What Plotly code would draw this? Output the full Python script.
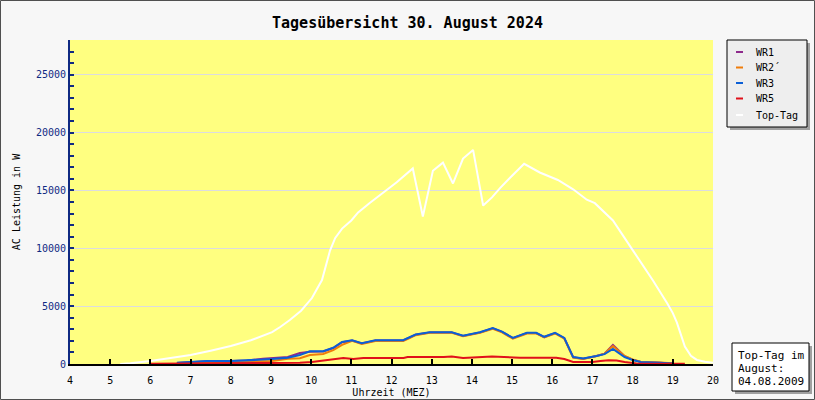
import plotly.graph_objects as go

# ---------------- data (hours, watts) ----------------
top_h = [5.25, 5.5, 6.0, 6.5, 7.0, 7.5, 8.0, 8.5, 9.03, 9.23, 9.47, 9.75, 10.02, 10.27, 10.47, 10.6, 10.77,
         11.0, 11.17, 11.45, 11.71, 12.13, 12.53, 12.78, 13.03, 13.28, 13.53, 13.78, 14.03, 14.28, 14.5, 14.7,
         14.95, 15.3, 15.69, 16.14, 16.52, 16.86, 17.06, 17.51, 18.01, 18.51, 18.86, 19.0, 19.1, 19.3, 19.45,
         19.6, 19.8, 20.0]
top_w = [0, 60, 250, 500, 780, 1150, 1550, 2050, 2750, 3200, 3800, 4600, 5700, 7250, 9800, 10900, 11700,
         12400, 13100, 13900, 14600, 15700, 16900, 12750, 16700, 17400, 15600, 17750, 18500, 13700, 14400, 15200,
         16100, 17300, 16550, 15900, 15100, 14200, 13900, 12400, 9800, 7200, 5250, 4400, 3600, 1500, 700,
         350, 200, 100]

wr3_h = [6.66, 7.0, 7.4, 8.0, 8.4, 8.8, 9.03, 9.42, 9.72, 9.97, 10.3, 10.55, 10.77, 11.02, 11.26, 11.6,
         12.29, 12.45, 12.6, 12.95, 13.5, 13.78, 14.2, 14.52, 14.75, 15.02, 15.37, 15.6, 15.8, 16.07, 16.3,
         16.52, 16.77, 17.1, 17.3, 17.51, 17.8, 18.0, 18.2, 18.67, 19.0]
wr3_w = [100, 150, 250, 270, 300, 380, 430, 550, 780, 1100, 1100, 1400, 1900, 2050, 1800, 2050,
         2050, 2300, 2550, 2750, 2750, 2450, 2750, 3100, 2800, 2250, 2700, 2700, 2350, 2700, 2250,
         600, 480, 700, 850, 1300, 600, 350, 170, 100, 50]

wr2_h = wr3_h
wr2_w = [80, 120, 150, 150, 180, 220, 250, 450, 500, 780, 860, 1200, 1650, 2000, 1740, 1990,
         1990, 2240, 2490, 2690, 2690, 2390, 2690, 3040, 2740, 2190, 2640, 2640, 2290, 2640, 2190,
         560, 440, 680, 900, 1550, 700, 400, 200, 120, 60]

wr1_h = wr3_h
wr1_w = [90, 140, 240, 260, 300, 450, 500, 600, 950, 1060, 1080, 1380, 1880, 2030, 1780, 2030,
         2030, 2280, 2530, 2730, 2730, 2430, 2730, 3080, 2780, 2230, 2680, 2680, 2330, 2680, 2230,
         580, 460, 690, 900, 1650, 680, 380, 180, 110, 50]

wr5_h = [6.0, 7.0, 8.0, 9.0, 9.72, 10.02, 10.3, 10.55, 10.8, 11.05, 11.3, 12.3, 12.4, 13.3, 13.5, 13.78,
         14.2, 14.5, 14.8, 15.2, 16.1, 16.3, 16.52, 17.0, 17.2, 17.4, 17.6, 17.8, 18.1, 18.5, 19.3]
wr5_w = [30, 40, 60, 120, 100, 170, 300, 400, 520, 430, 520, 520, 600, 600, 650, 520,
         600, 650, 600, 550, 550, 430, 170, 170, 260, 330, 300, 170, 50, 30, 20]

series_names = ["WR1", "WR2\u00b4", "WR3", "WR5", "Top-Tag"]
series_colors = ["#8e2a8c", "#f07d0a", "#0b5fd6", "#e0101a", "#ffffff"]
series_h = [wr1_h, wr2_h, wr3_h, wr5_h, top_h]
series_w = [wr1_w, wr2_w, wr3_w, wr5_w, top_w]

x_ticks = list(range(4, 21))
y_ticks = [0, 5000, 10000, 15000, 20000, 25000]

title_text = "Tagesübersicht 30. August 2024"
note_lines = ["Top-Tag im", "August:", "04.08.2009"]

# ---------------- figure ----------------
W, H = 815, 400
L, R, T, B = 70, 102, 40, 36
PW, PH = W - L - R, H - T - B
MONO = "DejaVu Sans Mono"


def px(x):
    return (x - L) / PW


def py(y):
    return (H - B - y) / PH


fig = go.Figure()
for name, col, hh, ww in zip(series_names, series_colors, series_h, series_w):
    fig.add_trace(go.Scatter(x=hh, y=ww, mode="lines", name=name,
                             line=dict(color=col, width=2), showlegend=False))

shapes = []
annotations = []

# legend box (manual)
lx0, lx1, ly0, ly1 = 727, 807, 40, 127
shapes.append(dict(type="rect", xref="paper", yref="paper", x0=px(lx0 + 3), x1=px(lx1 + 3),
                   y0=py(ly1 + 3), y1=py(ly0 + 3), fillcolor="#a0a0a0", line=dict(width=0), layer="above"))
shapes.append(dict(type="rect", xref="paper", yref="paper", x0=px(lx0), x1=px(lx1),
                   y0=py(ly1), y1=py(ly0), fillcolor="#eeeeee", line=dict(color="#000000", width=1), layer="above"))
item_y = [52, 67.5, 83, 98.5, 115]
for name, col, yy in zip(series_names, series_colors, item_y):
    shapes.append(dict(type="line", xref="paper", yref="paper", x0=px(736), x1=px(743),
                       y0=py(yy), y1=py(yy), line=dict(color=col, width=2), layer="above"))
    annotations.append(dict(xref="paper", yref="paper", x=px(754), y=py(yy), text=name,
                            showarrow=False, xanchor="left", yanchor="middle",
                            font=dict(family=MONO, size=10, color="#000000")))

# note box
nx0, nx1, ny0, ny1 = 732, 809, 343, 391
shapes.append(dict(type="rect", xref="paper", yref="paper", x0=px(nx0 + 3), x1=px(nx1 + 3),
                   y0=py(ny1 + 3), y1=py(ny0 + 3), fillcolor="#a0a0a0", line=dict(width=0), layer="above"))
shapes.append(dict(type="rect", xref="paper", yref="paper", x0=px(nx0), x1=px(nx1),
                   y0=py(ny1), y1=py(ny0), fillcolor="#ffffff", line=dict(color="#000000", width=1), layer="above"))
for i, t in enumerate(note_lines):
    annotations.append(dict(xref="paper", yref="paper", x=px(736), y=py(355 + 13 * i), text=t,
                            showarrow=False, xanchor="left", yanchor="middle",
                            font=dict(family=MONO, size=11, color="#000000")))

# outer frame
shapes.append(dict(type="rect", xref="paper", yref="paper", x0=px(0.5), x1=px(814.5),
                   y0=py(399.5), y1=py(0.5), line=dict(color="#505050", width=1), layer="above"))

fig.update_layout(
    width=W, height=H,
    margin=dict(l=L, r=R, t=T, b=B, autoexpand=False),
    paper_bgcolor="#f7f7f7",
    plot_bgcolor="#ffff80",
    title=dict(text="<b>" + title_text + "</b>", x=0.5, xref="paper", xanchor="center",
               y=1 - 23 / H, yanchor="middle", yref="container",
               font=dict(family=MONO, size=15, color="#000000")),
    font=dict(family=MONO, size=10, color="#000000"),
    shapes=shapes,
    annotations=annotations,
    showlegend=False,
)
fig.update_layout(title_x=(W / 2 - L) / PW)

fig.update_xaxes(range=[4, 20], tickvals=x_ticks, ticktext=[str(v) for v in x_ticks],
                 ticks="inside", ticklen=5, tickwidth=2, tickcolor="#000000",
                 showline=True, linecolor="#000000", linewidth=2, automargin=False,
                 showgrid=False, zeroline=False, ticklabelstandoff=6,
                 tickfont=dict(family=MONO, size=10, color="#000000"),
                 title=dict(text="Uhrzeit (MEZ)", standoff=4,
                            font=dict(family=MONO, size=10, color="#000000")))
fig.update_yaxes(range=[0, 28000], tickvals=y_ticks, ticktext=[str(v) for v in y_ticks],
                 ticks="inside", ticklen=4, tickwidth=2, tickcolor="#102a83", automargin=False,
                 minor=dict(dtick=1000, ticks="inside", ticklen=4, tickwidth=2, tickcolor="#102a83", showgrid=False),
                 showline=True, linecolor="#102a83", linewidth=2,
                 showgrid=True, gridcolor="#dcdce0", gridwidth=1, zeroline=False,
                 tickfont=dict(family=MONO, size=10, color="#102a83"),
                 title=dict(text="AC Leistung in W", standoff=13,
                            font=dict(family=MONO, size=10, color="#000000")))

fig.write_html("out.html")
